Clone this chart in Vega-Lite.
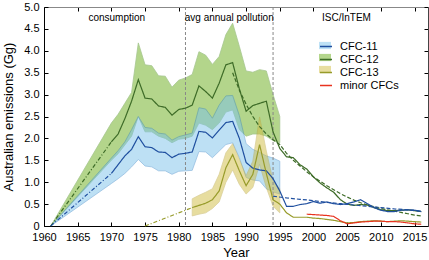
{
  "$schema": "https://vega.github.io/schema/vega-lite/v6.json",
  "width": 384,
  "height": 219,
  "autosize": {"type": "none"},
  "padding": {"left": 44, "top": 7, "right": 1, "bottom": 34},
  "config": {
    "font": "Liberation Sans",
    "view": {"stroke": null},
    "axis": {"grid": false, "labelFont": "Liberation Sans", "titleFont": "Liberation Sans", "labelColor": "#000", "titleColor": "#000", "titleFontWeight": "normal", "tickColor": "#000", "domainColor": "#000", "labelOverlap": false, "labelFlush": false},
    "legend": {"labelFont": "Liberation Sans"}
  },
  "datasets": {
    "bands": [
      {"gas": "CFC-12", "year": 1961, "lo": 0, "hi": 0},
      {"gas": "CFC-12", "year": 1970, "lo": 1.5, "hi": 2.35},
      {"gas": "CFC-12", "year": 1971, "lo": 1.65, "hi": 2.55},
      {"gas": "CFC-12", "year": 1972, "lo": 1.85, "hi": 2.8},
      {"gas": "CFC-12", "year": 1973, "lo": 2.05, "hi": 3.05},
      {"gas": "CFC-12", "year": 1974, "lo": 2.5, "hi": 4.18},
      {"gas": "CFC-12", "year": 1975, "lo": 2.15, "hi": 3.68},
      {"gas": "CFC-12", "year": 1976, "lo": 2.15, "hi": 3.66},
      {"gas": "CFC-12", "year": 1977, "lo": 2.05, "hi": 3.43},
      {"gas": "CFC-12", "year": 1978, "lo": 2.0, "hi": 3.42},
      {"gas": "CFC-12", "year": 1979, "lo": 1.9, "hi": 3.17},
      {"gas": "CFC-12", "year": 1980, "lo": 1.98, "hi": 3.33},
      {"gas": "CFC-12", "year": 1981, "lo": 2.0, "hi": 3.38},
      {"gas": "CFC-12", "year": 1982, "lo": 2.05, "hi": 3.46},
      {"gas": "CFC-12", "year": 1983, "lo": 2.35, "hi": 3.98},
      {"gas": "CFC-12", "year": 1984, "lo": 2.3, "hi": 3.9},
      {"gas": "CFC-12", "year": 1985, "lo": 2.2, "hi": 3.69},
      {"gas": "CFC-12", "year": 1986, "lo": 2.35, "hi": 3.87},
      {"gas": "CFC-12", "year": 1987, "lo": 2.6, "hi": 4.37},
      {"gas": "CFC-12", "year": 1988, "lo": 2.65, "hi": 4.63},
      {"gas": "CFC-12", "year": 1989, "lo": 2.2, "hi": 4.1},
      {"gas": "CFC-12", "year": 1990, "lo": 2.05, "hi": 3.54},
      {"gas": "CFC-12", "year": 1991, "lo": 2.1, "hi": 3.51},
      {"gas": "CFC-12", "year": 1992, "lo": 2.1, "hi": 3.57},
      {"gas": "CFC-12", "year": 1993, "lo": 2.05, "hi": 3.54},
      {"gas": "CFC-12", "year": 1994, "lo": 1.95, "hi": 3.0},
      {"gas": "CFC-12", "year": 1995, "lo": 1.9, "hi": 2.5},
      {"gas": "CFC-11", "year": 1961, "lo": 0, "hi": 0},
      {"gas": "CFC-11", "year": 1970, "lo": 0.97, "hi": 1.55},
      {"gas": "CFC-11", "year": 1971, "lo": 1.08, "hi": 1.72},
      {"gas": "CFC-11", "year": 1972, "lo": 1.2, "hi": 1.92},
      {"gas": "CFC-11", "year": 1973, "lo": 1.35, "hi": 2.2},
      {"gas": "CFC-11", "year": 1974, "lo": 1.52, "hi": 2.5},
      {"gas": "CFC-11", "year": 1975, "lo": 1.37, "hi": 2.25},
      {"gas": "CFC-11", "year": 1976, "lo": 1.35, "hi": 2.23},
      {"gas": "CFC-11", "year": 1977, "lo": 1.26, "hi": 2.12},
      {"gas": "CFC-11", "year": 1978, "lo": 1.26, "hi": 2.1},
      {"gas": "CFC-11", "year": 1979, "lo": 1.18, "hi": 1.96},
      {"gas": "CFC-11", "year": 1980, "lo": 1.25, "hi": 2.04},
      {"gas": "CFC-11", "year": 1981, "lo": 1.26, "hi": 2.08},
      {"gas": "CFC-11", "year": 1982, "lo": 1.27, "hi": 2.12},
      {"gas": "CFC-11", "year": 1983, "lo": 1.7, "hi": 2.7},
      {"gas": "CFC-11", "year": 1984, "lo": 1.69, "hi": 2.67},
      {"gas": "CFC-11", "year": 1985, "lo": 1.56, "hi": 2.46},
      {"gas": "CFC-11", "year": 1986, "lo": 1.71, "hi": 2.76},
      {"gas": "CFC-11", "year": 1987, "lo": 1.86, "hi": 2.97},
      {"gas": "CFC-11", "year": 1988, "lo": 1.9, "hi": 2.98},
      {"gas": "CFC-11", "year": 1989, "lo": 1.56, "hi": 2.52},
      {"gas": "CFC-11", "year": 1990, "lo": 1.11, "hi": 1.88},
      {"gas": "CFC-11", "year": 1991, "lo": 1.05, "hi": 1.75},
      {"gas": "CFC-11", "year": 1992, "lo": 1.03, "hi": 1.68},
      {"gas": "CFC-11", "year": 1993, "lo": 0.85, "hi": 1.6},
      {"gas": "CFC-11", "year": 1994, "lo": 0.78, "hi": 1.55},
      {"gas": "CFC-11", "year": 1995, "lo": 0.73, "hi": 1.48},
      {"gas": "CFC-13", "year": 1982, "lo": 0.23, "hi": 0.62},
      {"gas": "CFC-13", "year": 1983, "lo": 0.27, "hi": 0.7},
      {"gas": "CFC-13", "year": 1984, "lo": 0.3, "hi": 0.77},
      {"gas": "CFC-13", "year": 1985, "lo": 0.4, "hi": 0.85},
      {"gas": "CFC-13", "year": 1986, "lo": 0.55, "hi": 1.18},
      {"gas": "CFC-13", "year": 1987, "lo": 1.0, "hi": 1.67},
      {"gas": "CFC-13", "year": 1988, "lo": 1.28, "hi": 1.88},
      {"gas": "CFC-13", "year": 1989, "lo": 0.95, "hi": 1.52},
      {"gas": "CFC-13", "year": 1990, "lo": 0.73, "hi": 1.15},
      {"gas": "CFC-13", "year": 1991, "lo": 0.88, "hi": 1.48},
      {"gas": "CFC-13", "year": 1992, "lo": 1.41, "hi": 2.49},
      {"gas": "CFC-13", "year": 1993, "lo": 0.88, "hi": 1.71},
      {"gas": "CFC-13", "year": 1994, "lo": 0.45, "hi": 1.03},
      {"gas": "CFC-13", "year": 1995, "lo": 0.3, "hi": 0.85}
    ],
    "lines": [
      {"gas": "CFC-12", "kind": "dashdot", "year": 1961, "v": 0},
      {"gas": "CFC-12", "kind": "dashdot", "year": 1970, "v": 1.92},
      {"gas": "CFC-12", "kind": "solid", "year": 1970, "v": 1.92},
      {"gas": "CFC-12", "kind": "solid", "year": 1971, "v": 2.1},
      {"gas": "CFC-12", "kind": "solid", "year": 1972, "v": 2.45},
      {"gas": "CFC-12", "kind": "solid", "year": 1973, "v": 2.85},
      {"gas": "CFC-12", "kind": "solid", "year": 1974, "v": 3.34},
      {"gas": "CFC-12", "kind": "solid", "year": 1975, "v": 2.92},
      {"gas": "CFC-12", "kind": "solid", "year": 1976, "v": 2.9},
      {"gas": "CFC-12", "kind": "solid", "year": 1977, "v": 2.74},
      {"gas": "CFC-12", "kind": "solid", "year": 1978, "v": 2.71},
      {"gas": "CFC-12", "kind": "solid", "year": 1979, "v": 2.53},
      {"gas": "CFC-12", "kind": "solid", "year": 1980, "v": 2.66},
      {"gas": "CFC-12", "kind": "solid", "year": 1981, "v": 2.69},
      {"gas": "CFC-12", "kind": "solid", "year": 1982, "v": 2.76},
      {"gas": "CFC-12", "kind": "solid", "year": 1983, "v": 3.2},
      {"gas": "CFC-12", "kind": "solid", "year": 1984, "v": 3.07},
      {"gas": "CFC-12", "kind": "solid", "year": 1985, "v": 2.92},
      {"gas": "CFC-12", "kind": "solid", "year": 1986, "v": 3.26},
      {"gas": "CFC-12", "kind": "solid", "year": 1987, "v": 3.68},
      {"gas": "CFC-12", "kind": "solid", "year": 1988, "v": 3.73},
      {"gas": "CFC-12", "kind": "solid", "year": 1989, "v": 3.13},
      {"gas": "CFC-12", "kind": "solid", "year": 1990, "v": 2.62},
      {"gas": "CFC-12", "kind": "solid", "year": 1991, "v": 2.75},
      {"gas": "CFC-12", "kind": "solid", "year": 1992, "v": 2.8},
      {"gas": "CFC-12", "kind": "solid", "year": 1993, "v": 2.85},
      {"gas": "CFC-12", "kind": "solid", "year": 1994, "v": 2.15},
      {"gas": "CFC-12", "kind": "solid", "year": 1995, "v": 1.77},
      {"gas": "CFC-12", "kind": "solid", "year": 1996, "v": 1.58},
      {"gas": "CFC-12", "kind": "solid", "year": 1997, "v": 1.56},
      {"gas": "CFC-12", "kind": "solid", "year": 1998, "v": 1.4},
      {"gas": "CFC-12", "kind": "solid", "year": 1999, "v": 1.3},
      {"gas": "CFC-12", "kind": "solid", "year": 2000, "v": 1.12},
      {"gas": "CFC-12", "kind": "solid", "year": 2001, "v": 0.98},
      {"gas": "CFC-12", "kind": "solid", "year": 2002, "v": 0.87},
      {"gas": "CFC-12", "kind": "solid", "year": 2003, "v": 0.77},
      {"gas": "CFC-12", "kind": "solid", "year": 2004, "v": 0.6},
      {"gas": "CFC-12", "kind": "solid", "year": 2005, "v": 0.5},
      {"gas": "CFC-12", "kind": "solid", "year": 2006, "v": 0.47},
      {"gas": "CFC-12", "kind": "solid", "year": 2007, "v": 0.49},
      {"gas": "CFC-12", "kind": "solid", "year": 2008, "v": 0.48},
      {"gas": "CFC-12", "kind": "solid", "year": 2009, "v": 0.42},
      {"gas": "CFC-12", "kind": "solid", "year": 2010, "v": 0.37},
      {"gas": "CFC-12", "kind": "solid", "year": 2011, "v": 0.35},
      {"gas": "CFC-12", "kind": "solid", "year": 2012, "v": 0.35},
      {"gas": "CFC-12", "kind": "solid", "year": 2013, "v": 0.36},
      {"gas": "CFC-12", "kind": "solid", "year": 2014, "v": 0.37},
      {"gas": "CFC-12", "kind": "solid", "year": 2015, "v": 0.35},
      {"gas": "CFC-12", "kind": "solid", "year": 2016, "v": 0.33},
      {"gas": "CFC-12", "kind": "dashed", "year": 1988, "v": 3.5},
      {"gas": "CFC-12", "kind": "dashed", "year": 1989, "v": 3.1},
      {"gas": "CFC-12", "kind": "dashed", "year": 1990, "v": 2.78},
      {"gas": "CFC-12", "kind": "dashed", "year": 1991, "v": 2.5},
      {"gas": "CFC-12", "kind": "dashed", "year": 1992, "v": 2.27},
      {"gas": "CFC-12", "kind": "dashed", "year": 1993, "v": 2.1},
      {"gas": "CFC-12", "kind": "dashed", "year": 1994, "v": 1.97},
      {"gas": "CFC-12", "kind": "dashed", "year": 1995, "v": 1.86},
      {"gas": "CFC-12", "kind": "dashed", "year": 1996, "v": 1.66},
      {"gas": "CFC-12", "kind": "dashed", "year": 1997, "v": 1.5},
      {"gas": "CFC-12", "kind": "dashed", "year": 1998, "v": 1.37},
      {"gas": "CFC-12", "kind": "dashed", "year": 1999, "v": 1.24},
      {"gas": "CFC-12", "kind": "dashed", "year": 2000, "v": 1.12},
      {"gas": "CFC-12", "kind": "dashed", "year": 2001, "v": 1.02},
      {"gas": "CFC-12", "kind": "dashed", "year": 2002, "v": 0.92},
      {"gas": "CFC-12", "kind": "dashed", "year": 2003, "v": 0.83},
      {"gas": "CFC-12", "kind": "dashed", "year": 2004, "v": 0.74},
      {"gas": "CFC-12", "kind": "dashed", "year": 2005, "v": 0.66},
      {"gas": "CFC-12", "kind": "dashed", "year": 2006, "v": 0.59},
      {"gas": "CFC-12", "kind": "dashed", "year": 2007, "v": 0.53},
      {"gas": "CFC-12", "kind": "dashed", "year": 2008, "v": 0.48},
      {"gas": "CFC-12", "kind": "dashed", "year": 2009, "v": 0.44},
      {"gas": "CFC-12", "kind": "dashed", "year": 2010, "v": 0.4},
      {"gas": "CFC-12", "kind": "dashed", "year": 2011, "v": 0.37},
      {"gas": "CFC-12", "kind": "dashed", "year": 2012, "v": 0.34},
      {"gas": "CFC-12", "kind": "dashed", "year": 2013, "v": 0.31},
      {"gas": "CFC-12", "kind": "dashed", "year": 2014, "v": 0.28},
      {"gas": "CFC-12", "kind": "dashed", "year": 2015, "v": 0.25},
      {"gas": "CFC-12", "kind": "dashed", "year": 2016, "v": 0.23},
      {"gas": "CFC-11", "kind": "dashdot", "year": 1961, "v": 0},
      {"gas": "CFC-11", "kind": "dashdot", "year": 1970, "v": 1.2},
      {"gas": "CFC-11", "kind": "solid", "year": 1970, "v": 1.2},
      {"gas": "CFC-11", "kind": "solid", "year": 1971, "v": 1.4},
      {"gas": "CFC-11", "kind": "solid", "year": 1972, "v": 1.6},
      {"gas": "CFC-11", "kind": "solid", "year": 1973, "v": 1.75},
      {"gas": "CFC-11", "kind": "solid", "year": 1974, "v": 2.04},
      {"gas": "CFC-11", "kind": "solid", "year": 1975, "v": 1.81},
      {"gas": "CFC-11", "kind": "solid", "year": 1976, "v": 1.79},
      {"gas": "CFC-11", "kind": "solid", "year": 1977, "v": 1.69},
      {"gas": "CFC-11", "kind": "solid", "year": 1978, "v": 1.68},
      {"gas": "CFC-11", "kind": "solid", "year": 1979, "v": 1.56},
      {"gas": "CFC-11", "kind": "solid", "year": 1980, "v": 1.64},
      {"gas": "CFC-11", "kind": "solid", "year": 1981, "v": 1.66},
      {"gas": "CFC-11", "kind": "solid", "year": 1982, "v": 1.69},
      {"gas": "CFC-11", "kind": "solid", "year": 1983, "v": 2.16},
      {"gas": "CFC-11", "kind": "solid", "year": 1984, "v": 2.14},
      {"gas": "CFC-11", "kind": "solid", "year": 1985, "v": 2.01},
      {"gas": "CFC-11", "kind": "solid", "year": 1986, "v": 2.19},
      {"gas": "CFC-11", "kind": "solid", "year": 1987, "v": 2.36},
      {"gas": "CFC-11", "kind": "solid", "year": 1988, "v": 2.39},
      {"gas": "CFC-11", "kind": "solid", "year": 1989, "v": 2.0},
      {"gas": "CFC-11", "kind": "solid", "year": 1990, "v": 1.45},
      {"gas": "CFC-11", "kind": "solid", "year": 1991, "v": 1.32},
      {"gas": "CFC-11", "kind": "solid", "year": 1992, "v": 1.28},
      {"gas": "CFC-11", "kind": "solid", "year": 1993, "v": 1.26},
      {"gas": "CFC-11", "kind": "solid", "year": 1994, "v": 1.08},
      {"gas": "CFC-11", "kind": "solid", "year": 1995, "v": 0.8},
      {"gas": "CFC-11", "kind": "solid", "year": 1996, "v": 0.45},
      {"gas": "CFC-11", "kind": "solid", "year": 1997, "v": 0.45},
      {"gas": "CFC-11", "kind": "solid", "year": 1998, "v": 0.49},
      {"gas": "CFC-11", "kind": "solid", "year": 1999, "v": 0.51},
      {"gas": "CFC-11", "kind": "solid", "year": 2000, "v": 0.56},
      {"gas": "CFC-11", "kind": "solid", "year": 2001, "v": 0.52},
      {"gas": "CFC-11", "kind": "solid", "year": 2002, "v": 0.55},
      {"gas": "CFC-11", "kind": "solid", "year": 2003, "v": 0.51},
      {"gas": "CFC-11", "kind": "solid", "year": 2004, "v": 0.49},
      {"gas": "CFC-11", "kind": "solid", "year": 2005, "v": 0.51},
      {"gas": "CFC-11", "kind": "solid", "year": 2006, "v": 0.55},
      {"gas": "CFC-11", "kind": "solid", "year": 2007, "v": 0.6},
      {"gas": "CFC-11", "kind": "solid", "year": 2008, "v": 0.51},
      {"gas": "CFC-11", "kind": "solid", "year": 2009, "v": 0.42},
      {"gas": "CFC-11", "kind": "solid", "year": 2010, "v": 0.36},
      {"gas": "CFC-11", "kind": "solid", "year": 2011, "v": 0.33},
      {"gas": "CFC-11", "kind": "solid", "year": 2012, "v": 0.33},
      {"gas": "CFC-11", "kind": "solid", "year": 2013, "v": 0.36},
      {"gas": "CFC-11", "kind": "solid", "year": 2014, "v": 0.37},
      {"gas": "CFC-11", "kind": "solid", "year": 2015, "v": 0.36},
      {"gas": "CFC-11", "kind": "solid", "year": 2016, "v": 0.33},
      {"gas": "CFC-11", "kind": "dashed", "year": 1994, "v": 0.68},
      {"gas": "CFC-11", "kind": "dashed", "year": 1996, "v": 0.64},
      {"gas": "CFC-11", "kind": "dashed", "year": 1998, "v": 0.61},
      {"gas": "CFC-11", "kind": "dashed", "year": 2000, "v": 0.58},
      {"gas": "CFC-11", "kind": "dashed", "year": 2002, "v": 0.54},
      {"gas": "CFC-11", "kind": "dashed", "year": 2004, "v": 0.51},
      {"gas": "CFC-11", "kind": "dashed", "year": 2006, "v": 0.48},
      {"gas": "CFC-11", "kind": "dashed", "year": 2008, "v": 0.45},
      {"gas": "CFC-11", "kind": "dashed", "year": 2010, "v": 0.42},
      {"gas": "CFC-11", "kind": "dashed", "year": 2012, "v": 0.39},
      {"gas": "CFC-11", "kind": "dashed", "year": 2014, "v": 0.37},
      {"gas": "CFC-11", "kind": "dashed", "year": 2016, "v": 0.34},
      {"gas": "CFC-13", "kind": "dashdot", "year": 1975, "v": 0},
      {"gas": "CFC-13", "kind": "dashdot", "year": 1982, "v": 0.42},
      {"gas": "CFC-13", "kind": "solid", "year": 1982, "v": 0.42},
      {"gas": "CFC-13", "kind": "solid", "year": 1983, "v": 0.47},
      {"gas": "CFC-13", "kind": "solid", "year": 1984, "v": 0.52},
      {"gas": "CFC-13", "kind": "solid", "year": 1985, "v": 0.6},
      {"gas": "CFC-13", "kind": "solid", "year": 1986, "v": 0.8},
      {"gas": "CFC-13", "kind": "solid", "year": 1987, "v": 1.33},
      {"gas": "CFC-13", "kind": "solid", "year": 1988, "v": 1.63},
      {"gas": "CFC-13", "kind": "solid", "year": 1989, "v": 1.26},
      {"gas": "CFC-13", "kind": "solid", "year": 1990, "v": 0.92},
      {"gas": "CFC-13", "kind": "solid", "year": 1991, "v": 1.18},
      {"gas": "CFC-13", "kind": "solid", "year": 1992, "v": 1.86},
      {"gas": "CFC-13", "kind": "solid", "year": 1993, "v": 1.2},
      {"gas": "CFC-13", "kind": "solid", "year": 1994, "v": 0.6},
      {"gas": "CFC-13", "kind": "solid", "year": 1995, "v": 0.5},
      {"gas": "CFC-13", "kind": "solid", "year": 1996, "v": 0.3},
      {"gas": "CFC-13", "kind": "solid", "year": 1997, "v": 0.2},
      {"gas": "CFC-13", "kind": "solid", "year": 1998, "v": 0.2},
      {"gas": "CFC-13", "kind": "solid", "year": 1999, "v": 0.2},
      {"gas": "CFC-13", "kind": "solid", "year": 2000, "v": 0.18},
      {"gas": "CFC-13", "kind": "solid", "year": 2001, "v": 0.17},
      {"gas": "CFC-13", "kind": "solid", "year": 2002, "v": 0.15},
      {"gas": "CFC-13", "kind": "solid", "year": 2003, "v": 0.13},
      {"gas": "CFC-13", "kind": "solid", "year": 2004, "v": 0.1},
      {"gas": "CFC-13", "kind": "solid", "year": 2005, "v": 0.07},
      {"gas": "CFC-13", "kind": "solid", "year": 2006, "v": 0.08},
      {"gas": "CFC-13", "kind": "solid", "year": 2007, "v": 0.1},
      {"gas": "CFC-13", "kind": "solid", "year": 2008, "v": 0.11},
      {"gas": "CFC-13", "kind": "solid", "year": 2009, "v": 0.12},
      {"gas": "CFC-13", "kind": "solid", "year": 2010, "v": 0.11},
      {"gas": "CFC-13", "kind": "solid", "year": 2011, "v": 0.1},
      {"gas": "CFC-13", "kind": "solid", "year": 2012, "v": 0.11},
      {"gas": "CFC-13", "kind": "solid", "year": 2013, "v": 0.12},
      {"gas": "CFC-13", "kind": "solid", "year": 2014, "v": 0.11},
      {"gas": "CFC-13", "kind": "solid", "year": 2015, "v": 0.1},
      {"gas": "CFC-13", "kind": "solid", "year": 2016, "v": 0.09},
      {"gas": "minor CFCs", "kind": "solid", "year": 1999, "v": 0.27},
      {"gas": "minor CFCs", "kind": "solid", "year": 2000, "v": 0.26},
      {"gas": "minor CFCs", "kind": "solid", "year": 2001, "v": 0.25},
      {"gas": "minor CFCs", "kind": "solid", "year": 2002, "v": 0.24},
      {"gas": "minor CFCs", "kind": "solid", "year": 2003, "v": 0.22},
      {"gas": "minor CFCs", "kind": "solid", "year": 2004, "v": 0.12},
      {"gas": "minor CFCs", "kind": "solid", "year": 2005, "v": 0.05},
      {"gas": "minor CFCs", "kind": "solid", "year": 2006, "v": 0.07},
      {"gas": "minor CFCs", "kind": "solid", "year": 2007, "v": 0.09},
      {"gas": "minor CFCs", "kind": "solid", "year": 2008, "v": 0.1},
      {"gas": "minor CFCs", "kind": "solid", "year": 2009, "v": 0.11},
      {"gas": "minor CFCs", "kind": "solid", "year": 2010, "v": 0.11},
      {"gas": "minor CFCs", "kind": "solid", "year": 2011, "v": 0.1},
      {"gas": "minor CFCs", "kind": "solid", "year": 2012, "v": 0.1},
      {"gas": "minor CFCs", "kind": "solid", "year": 2013, "v": 0.09},
      {"gas": "minor CFCs", "kind": "solid", "year": 2014, "v": 0.07},
      {"gas": "minor CFCs", "kind": "solid", "year": 2015, "v": 0.05},
      {"gas": "minor CFCs", "kind": "solid", "year": 2016, "v": 0.04}
    ],
    "rules": [{"year": 1981}, {"year": 1994}],
    "notes": [
      {"label": "consumption", "year": 1970.8, "v": 4.74},
      {"label": "avg annual pollution", "year": 1987.5, "v": 4.74},
      {"label": "ISC/InTEM", "year": 2004.9, "v": 4.74}
    ]
  },
  "resolve": {"axis": {"x": "independent", "y": "independent"}},
  "layer": [
    {
      "data": {"name": "bands"},
      "transform": [{"filter": "datum.gas === 'CFC-12'"}],
      "mark": {"type": "area", "opacity": 0.5, "stroke": "#4f8f22", "strokeWidth": 0.8},
      "encoding": {
        "x": {"field": "year", "type": "quantitative", "scale": {"domain": [1960, 2017], "nice": false}, "axis": {"orient": "bottom", "values": [1960, 1965, 1970, 1975, 1980, 1985, 1990, 1995, 2000, 2005, 2010, 2015], "format": "d", "labelFontSize": 11, "tickSize": -4, "labelPadding": 9, "labelOverlap": false, "labelFlush": false, "title": "Year", "titleFontSize": 13, "titlePadding": 4}},
        "y": {"field": "lo", "type": "quantitative", "scale": {"domain": [0, 5], "nice": false}, "axis": {"orient": "left", "values": [0, 0.5, 1, 1.5, 2, 2.5, 3, 3.5, 4, 4.5, 5], "labelExpr": "datum.value == 0 ? '0' : format(datum.value, '.1f')", "labelFontSize": 11, "tickSize": -4, "labelPadding": 9, "labelOverlap": false, "labelFlush": false, "title": "Australian emissions (Gg)", "titleFontSize": 13, "titlePadding": 8}},
        "y2": {"field": "hi"},
        "fill": {"field": "gas", "type": "nominal", "scale": {"domain": ["CFC-11", "CFC-12", "CFC-13"], "range": ["#7dc3eb", "#69ad19", "#d1bd41"]}, "legend": {"orient": "none", "legendX": 275, "legendY": 32.5, "title": null, "symbolType": "M-1,-0.6H1V0.6H-1Z", "symbolSize": 144, "symbolStrokeWidth": 0, "symbolOpacity": 0.5, "labelFontSize": 11, "labelOffset": 7, "labelExpr": "''", "rowPadding": 1, "padding": 0}}
      }
    },
    {
      "data": {"name": "bands"},
      "transform": [{"filter": "datum.gas === 'CFC-11'"}],
      "mark": {"type": "area", "opacity": 0.5, "stroke": "#2f7fc4", "strokeWidth": 0.8},
      "encoding": {
        "x": {"field": "year", "type": "quantitative", "axis": null},
        "y": {"field": "lo", "type": "quantitative", "axis": null},
        "y2": {"field": "hi"},
        "fill": {"field": "gas", "type": "nominal"}
      }
    },
    {
      "data": {"name": "bands"},
      "transform": [{"filter": "datum.gas === 'CFC-13'"}],
      "mark": {"type": "area", "opacity": 0.5, "stroke": "#b8a23a", "strokeWidth": 0.8},
      "encoding": {
        "x": {"field": "year", "type": "quantitative", "axis": null},
        "y": {"field": "lo", "type": "quantitative", "axis": null},
        "y2": {"field": "hi"},
        "fill": {"field": "gas", "type": "nominal"}
      }
    },
    {
      "data": {"name": "rules"},
      "mark": {"type": "rule", "color": "#888", "strokeDash": [3, 2], "strokeWidth": 1},
      "encoding": {
        "x": {"field": "year", "type": "quantitative", "axis": {"orient": "top", "values": [1960, 1965, 1970, 1975, 1980, 1985, 1990, 1995, 2000, 2005, 2010, 2015], "labels": false, "tickSize": -4, "title": null, "domainColor": "#888"}}
      }
    },
    {
      "data": {"name": "lines"},
      "mark": {"type": "line", "strokeWidth": 1.2},
      "encoding": {
        "x": {"field": "year", "type": "quantitative", "axis": null},
        "y": {"field": "v", "type": "quantitative", "axis": {"orient": "right", "values": [0, 0.5, 1, 1.5, 2, 2.5, 3, 3.5, 4, 4.5, 5], "labels": false, "tickSize": -4, "title": null, "domainColor": "#444"}},
        "stroke": {"field": "gas", "type": "nominal", "scale": {"domain": ["CFC-11", "CFC-12", "CFC-13", "minor CFCs"], "range": ["#1f4f9f", "#3d6b27", "#979b2a", "#e8331f"]}, "legend": {"orient": "none", "legendX": 275, "legendY": 32.5, "title": null, "symbolType": "stroke", "symbolSize": 144, "symbolStrokeWidth": 1.5, "labelFontSize": 11, "labelOffset": 7, "rowPadding": 1, "padding": 0}},
        "strokeDash": {"field": "kind", "type": "nominal", "scale": {"domain": ["solid", "dashdot", "dashed"], "range": [[1, 0], [4, 2, 1, 2], [4, 2]]}, "legend": null}
      }
    },
    {
      "data": {"name": "notes"},
      "mark": {"type": "text", "fontSize": 10, "font": "Liberation Sans", "color": "#000"},
      "encoding": {
        "x": {"field": "year", "type": "quantitative", "axis": null},
        "y": {"field": "v", "type": "quantitative", "axis": null},
        "text": {"field": "label"}
      }
    }
  ]
}
